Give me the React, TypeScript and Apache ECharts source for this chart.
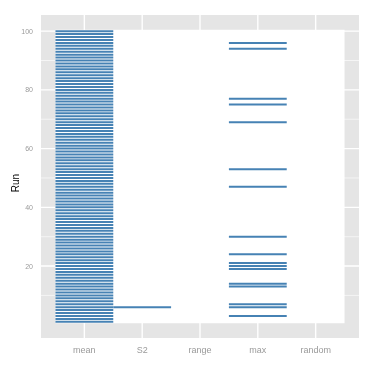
import React, { useEffect, useRef } from "react";
import * as echarts from "echarts";

const categories = ["mean", "S2", "range", "max", "random"];
const meanRuns = [
  1, 2, 3, 4, 5, 6, 7, 8, 9, 10, 11, 12, 13, 14, 15, 16, 17, 18, 19, 20,
  21, 22, 23, 24, 25, 26, 27, 28, 29, 30, 31, 32, 33, 34, 35, 36, 37, 38, 39, 40,
  41, 42, 43, 44, 45, 46, 47, 48, 49, 50, 51, 52, 53, 54, 55, 56, 57, 58, 59, 60,
  61, 62, 63, 64, 65, 66, 67, 68, 69, 70, 71, 72, 73, 74, 75, 76, 77, 78, 79, 80,
  81, 82, 83, 84, 85, 86, 87, 88, 89, 90, 91, 92, 93, 94, 95, 96, 97, 98, 99, 100,
];
const s2Runs = [6];
const rangeRuns: number[] = [];
const maxRuns = [3, 6, 7, 13, 14, 19, 20, 21, 24, 30, 47, 53, 69, 75, 77, 94, 96];
const randomRuns: number[] = [];

const yTicks = [20, 40, 60, 80, 100];
const yMinor = [10, 30, 50, 70, 90];
const xTicks = [1, 2, 3, 4, 5];

const runsByCategory = [meanRuns, s2Runs, rangeRuns, maxRuns, randomRuns];

const FONT = "'Liberation Sans', Arial, sans-serif";
const X_MIN = 0.25, X_MAX = 5.75, Y_MIN = -4.5, Y_MAX = 105.5;

export default function App() {
  const ref = useRef<HTMLDivElement>(null);
  useEffect(() => {
    if (!ref.current) return;
    const chart = echarts.init(ref.current, undefined, { renderer: "svg" });

    const segData: number[][] = [];
    runsByCategory.forEach((runs, i) => {
      runs.forEach((r) => segData.push([i + 1, r]));
    });

    const gridData: any[] = [];
    yTicks.forEach((v) => gridData.push(["h", v, 1.4]));
    yMinor.forEach((v) => gridData.push(["h", v, 0.6]));
    xTicks.forEach((v) => gridData.push(["v", v, 1.4]));

    chart.setOption({
      animation: false,
      grid: {
        left: 41, right: 15, top: 15, bottom: 36,
        show: true, backgroundColor: "#E5E5E5", borderWidth: 0,
      },
      xAxis: {
        type: "value", min: X_MIN, max: X_MAX,
        axisLine: { show: false }, axisTick: { show: false }, splitLine: { show: false },
        axisLabel: {
          customValues: xTicks,
          formatter: (v: number) => categories[Math.round(v) - 1] ?? "",
          color: "#9a9a9a", fontSize: 9, fontFamily: FONT, margin: 7,
        },
      },
      yAxis: {
        type: "value", min: Y_MIN, max: Y_MAX,
        axisLine: { show: false }, axisTick: { show: false }, splitLine: { show: false },
        axisLabel: {
          customValues: yTicks,
          color: "#9a9a9a", fontSize: 7, fontFamily: FONT, margin: 8,
        },
      },
      graphic: [
        {
          type: "text", x: 15, y: 183, rotation: Math.PI / 2,
          style: {
            text: "Run", fontSize: 10, fill: "#000", fontFamily: FONT,
            align: "center", verticalAlign: "middle",
          },
        },
      ],
      series: [
        {
          type: "custom", z: 1, silent: true,
          data: gridData,
          renderItem: (params: any, api: any) => {
            const kind = gridData[params.dataIndex][0];
            const v = api.value(1);
            const w = api.value(2);
            let p1, p2;
            if (kind === "h") {
              p1 = api.coord([X_MIN, v]); p2 = api.coord([X_MAX, v]);
            } else {
              p1 = api.coord([v, Y_MIN]); p2 = api.coord([v, Y_MAX]);
            }
            return {
              type: "line",
              shape: { x1: p1[0], y1: p1[1], x2: p2[0], y2: p2[1] },
              style: { stroke: "#FFFFFF", lineWidth: w },
            };
          },
        },
        {
          type: "custom", z: 2, silent: true,
          data: [[0.5, 0.5, 5.5, 100.5]],
          renderItem: (params: any, api: any) => {
            const a = api.coord([api.value(0), api.value(1)]);
            const b = api.coord([api.value(2), api.value(3)]);
            return {
              type: "rect",
              shape: { x: a[0], y: b[1], width: b[0] - a[0], height: a[1] - b[1] },
              style: { fill: "#FFFFFF" },
            };
          },
        },
        {
          type: "custom", z: 3, silent: true,
          data: segData,
          renderItem: (params: any, api: any) => {
            const x = api.value(0);
            const y = api.value(1);
            const p1 = api.coord([x - 0.5, y]);
            const p2 = api.coord([x + 0.5, y]);
            return {
              type: "line",
              shape: { x1: p1[0], y1: p1[1], x2: p2[0], y2: p2[1] },
              style: { stroke: "#4682B4", lineWidth: 2 },
            };
          },
        },
      ],
    });
    return () => chart.dispose();
  }, []);
  return (
    <div
      ref={ref}
      style={{ position: "fixed", left: 0, top: 0, width: 374, height: 374 }}
    />
  );
}
